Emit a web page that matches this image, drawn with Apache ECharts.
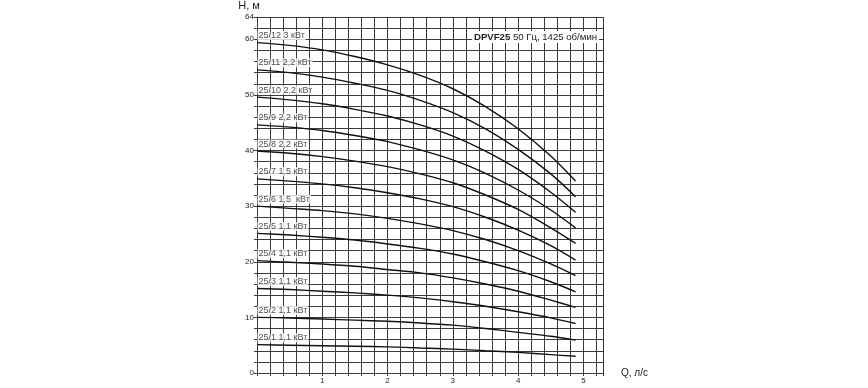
<!DOCTYPE html>
<html><head><meta charset="utf-8">
<script src="https://cdn.jsdelivr.net/npm/echarts@6/dist/echarts.min.js"></script>
<style>html,body{margin:0;padding:0;background:#fff}#c{width:868px;height:388px}</style>
</head><body><div id="c"></div>
<script>
// Flow rate Q (l/s) sample points
const flow = [0, 0.5, 1, 1.5, 2, 2.5, 3, 3.5, 4, 4.5, 4.88];
// Head H (m) for each pump model
const names = ["25/12 3 кВт","25/11 2,2 кВт","25/10 2,2 кВт","25/9 2,2 кВт","25/8 2,2 кВт","25/7 1,5 кВт","25/6 1,5  кВт","25/5 1,1 кВт","25/4 1,1 кВт","25/3 1,1 кВт","25/2 1,1 кВт","25/1 1,1 кВт"];
const h12 = [59.4, 58.9, 58.1, 56.9, 55.4, 53.5, 51.1, 47.9, 43.9, 39.0, 34.5];
const h11 = [54.5, 54.0, 53.2, 52.1, 50.8, 49.0, 46.8, 43.9, 40.2, 35.8, 31.7];
const h10 = [49.6, 49.1, 48.4, 47.4, 46.2, 44.6, 42.6, 39.9, 36.6, 32.5, 28.9];
const h9  = [44.6, 44.2, 43.6, 42.7, 41.6, 40.1, 38.3, 35.9, 32.9, 29.3, 26.1];
const h8  = [39.9, 39.5, 38.9, 38.1, 37.1, 35.8, 34.2, 32.0, 29.4, 26.1, 23.3];
const h7  = [34.9, 34.5, 34.0, 33.3, 32.4, 31.3, 29.9, 28.0, 25.7, 22.9, 20.3];
const h6  = [30.0, 29.6, 29.2, 28.6, 27.8, 26.8, 25.6, 24.0, 22.0, 19.6, 17.5];
const h5  = [25.1, 24.8, 24.4, 23.9, 23.2, 22.4, 21.4, 20.0, 18.4, 16.4, 14.6];
const h4  = [20.2, 19.9, 19.6, 19.2, 18.6, 18.0, 17.1, 16.0, 14.7, 13.1, 11.8];
const h3  = [15.2, 15.0, 14.7, 14.4, 14.0, 13.5, 12.8, 12.0, 11.0, 9.9, 8.9];
const h2  = [10.0, 9.9, 9.7, 9.5, 9.3, 9.0, 8.6, 8.0, 7.3, 6.6, 5.9];
const h1  = [5.1, 5.0, 4.9, 4.8, 4.7, 4.5, 4.3, 4.0, 3.7, 3.3, 3.0];
const heads = [h12, h11, h10, h9, h8, h7, h6, h5, h4, h3, h2, h1];
const yLabels = [0, 10, 20, 30, 40, 50, 60, 64];
const xLabels = [1, 2, 3, 4, 5];

const chart = echarts.init(document.getElementById('c'), null, {renderer: 'canvas'});
const gridColor = '#3a3a3a';
const FONT = 'Liberation Sans, Arial, sans-serif';
const series = [];
heads.forEach((h, i) => {
  series.push({
    type: 'line', smooth: 0.3, showSymbol: false, silent: true,
    lineStyle: {color: '#111', width: 1.4},
    data: flow.map((q, k) => [q, h[k]]),
    z: 3
  });
});
series.push({
  type: 'scatter', symbolSize: 1, silent: true,
  itemStyle: {color: 'rgba(0,0,0,0)'},
  data: heads.map((h, i) => [0, h[0], names[i]]),
  label: {
    show: true, position: [1, -11],
    formatter: p => p.data[2],
    fontSize: 9, color: '#222', fontFamily: FONT,
    backgroundColor: '#fff', padding: [0, 1, 0, 1], lineHeight: 9
  },
  z: 4
});

chart.setOption({
  animation: false,
  backgroundColor: '#fff',
  title: {
    text: '{b|DPVF25} 50 Гц, 1425 об/мин',
    left: 472, top: 31, padding: [1, 2],
    backgroundColor: '#fff',
    textStyle: {
      fontSize: 9.6, fontWeight: 'normal', color: '#222', fontFamily: FONT,
      rich: {b: {fontSize: 9.6, fontWeight: 'bold', color: '#222', fontFamily: FONT}}
    }
  },
  grid: {left: 257, right: 265, top: 13, bottom: 15, show: false},
  xAxis: {
    type: 'value', min: 0, max: 5.3, interval: 0.2,
    name: 'Q, л/с', nameLocation: 'end', nameGap: 18,
    nameTextStyle: {fontSize: 10, color: '#222', fontFamily: FONT},
    axisLine: {show: true, onZero: false, lineStyle: {color: gridColor, width: 1}},
    axisTick: {show: true, length: 3, lineStyle: {color: gridColor}},
    splitLine: {show: true, lineStyle: {color: gridColor, width: 1}},
    axisLabel: {
      margin: 4, fontSize: 8, color: '#222', fontFamily: FONT,
      formatter: v => { const r = Math.round(v); return (Math.abs(v - r) < 1e-6 && xLabels.includes(r)) ? String(r) : ''; }
    }
  },
  yAxis: {
    type: 'value', min: 0, max: 64, interval: 2,
    name: 'H, м', nameLocation: 'end', nameGap: 6,
    nameTextStyle: {fontSize: 11, color: '#222', fontFamily: FONT, padding: [0, 16, 0, 0]},
    axisLine: {show: true, lineStyle: {color: gridColor, width: 1}},
    axisTick: {show: true, length: 3, lineStyle: {color: gridColor}},
    splitLine: {show: true, lineStyle: {color: gridColor, width: 1}},
    axisLabel: {
      margin: 3, fontSize: 8, color: '#222', fontFamily: FONT,
      formatter: v => { const r = Math.round(v); return (Math.abs(v - r) < 1e-6 && yLabels.includes(r)) ? String(r) : ''; }
    }
  },
  series: series
});
</script></body></html>
